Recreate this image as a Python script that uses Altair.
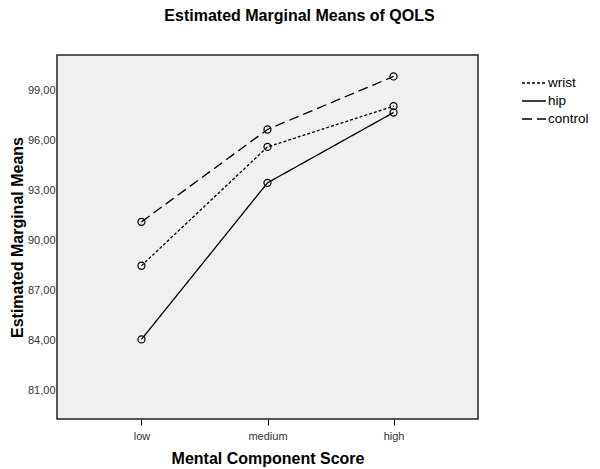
import altair as alt
import pandas as pd

categories = ["low", "medium", "high"]
groups = ["wrist", "hip", "control"]
wrist = [88.48, 95.63, 98.08]
hip = [84.05, 93.47, 97.70]
control = [91.12, 96.68, 99.87]
y_ticks = [81, 84, 87, 90, 93, 96, 99]

rows = []
for g, vals in zip(groups, [wrist, hip, control]):
    for c, v in zip(categories, vals):
        rows.append({"score": c, "group": g, "mean": v})
df = pd.DataFrame(rows)

FONT = "Liberation Sans"

x_enc = alt.X(
    "score:N",
    sort=categories,
    scale=alt.Scale(type="point", padding=0.67),
    axis=alt.Axis(
        title="Mental Component Score",
        titleFontSize=16, titleFont=FONT, titleFontWeight="bold", titleColor="#000",
        titlePadding=9,
        labelFont=FONT, labelFontSize=11, labelColor="#333", labelAngle=0,
        labelPadding=5, tickSize=6, tickColor="#000", tickWidth=1,
        domain=False, grid=False,
    ),
)
y_enc = alt.Y(
    "mean:Q",
    scale=alt.Scale(domain=[79.26, 101.16], nice=False, zero=False),
    axis=alt.Axis(
        title="Estimated Marginal Means",
        titleFontSize=16, titleFont=FONT, titleFontWeight="bold", titleColor="#000",
        titlePadding=2,
        values=y_ticks,
        labelExpr="replace(format(datum.value, '.2f'), '.', ',')",
        labelFont=FONT, labelFontSize=11, labelColor="#333",
        labelPadding=2, ticks=False, domain=False, grid=False,
    ),
)

lines = alt.Chart(df).mark_line(color="black", strokeWidth=1.3).encode(
    x=x_enc,
    y=y_enc,
    strokeDash=alt.StrokeDash(
        "group:N",
        scale=alt.Scale(domain=groups, range=[[3, 2], [1, 0], [10, 5]]),
        legend=alt.Legend(
            title=None, orient="none", legendX=464, legendY=19,
            symbolType="stroke", symbolSize=576, symbolStrokeColor="black",
            symbolStrokeWidth=1.3, labelFont=FONT, labelFontSize=13.5,
            labelColor="#000", labelOffset=1, rowPadding=0, clipHeight=18,
        ),
    ),
    detail="group:N",
)

points = alt.Chart(df).mark_point(
    shape="circle", size=50, filled=False, color="black", strokeWidth=1.2, opacity=1
).encode(x=x_enc, y=y_enc, detail="group:N")

chart = (
    alt.layer(lines, points)
    .properties(
        width=421,
        height=364,
        autosize=alt.AutoSizeParams(type="none"),
        padding={"left": 49, "top": 47, "right": 114, "bottom": 50},
        title=alt.TitleParams(
            "Estimated Marginal Means of QOLS",
            font=FONT, fontSize=16, fontWeight="bold", color="#000",
            anchor="middle", dx=32, offset=31,
        ),
        background="white",
    )
    .configure_view(fill="#F0F0F0", stroke="#222", strokeWidth=1.5)
)

chart.save("out.html", embed_options={"renderer": "svg", "actions": False})
